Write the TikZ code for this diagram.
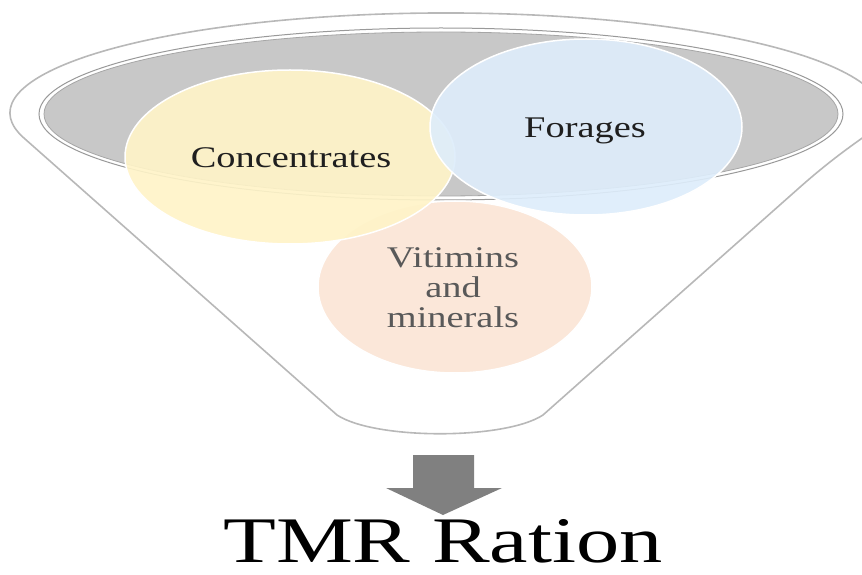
\documentclass[tikz,border=0pt]{standalone}
\usepackage{fontspec}
\setmainfont{Liberation Serif}
\begin{document}
\begin{tikzpicture}[x=1pt,y=1pt,
  funnelline/.style={draw=black!28,line width=1.6pt},
  blob/.style={draw=white,line width=1.5pt,fill opacity=0.91},
  lbl/.style={inner sep=0pt,anchor=base,xscale=1.28,font=\fontsize{30}{30}\selectfont,text=black!88},
]
\useasboundingbox (0,0) rectangle (862,574);
\clip (0,0) rectangle (862,574);
\definecolor{cyel}{RGB}{255,244,200}
\definecolor{cblu}{RGB}{222,237,251}
\definecolor{cpea}{RGB}{251,229,214}
\definecolor{cgry}{RGB}{200,200,200}
% funnel body
\path[funnelline,fill=white]
  (337,159) -- (23.9,436)
  arc[start angle=194.5,end angle=-8,x radius=436,y radius=100]
  .. controls (860,434) and (835,418) .. (799,386) -- (543,159)
  .. controls (505,134) and (375,134) .. (337,159) -- cycle;
% inner gray ellipse
\draw[draw=black!40,line width=1pt,fill=white] (441,460) ellipse[x radius=402,y radius=86];
\draw[draw=black!35,line width=0.8pt,fill=cgry] (441,460) ellipse[x radius=397,y radius=82];
% circles
\path[blob,fill=cpea] (455,287) ellipse[x radius=137,y radius=86];
\path[blob,fill=cyel] (290,417) ellipse[x radius=165,y radius=87];
\path[blob,fill=cblu] (586,447) ellipse[x radius=156,y radius=88];
% labels
\node[lbl] (conc) at (291,406) {Concentrates};
\node[lbl] (forg) at (585,436) {Forages};
\node[lbl,text=black!65] (vit1) at (453,307) {Vitimins};
\node[lbl,text=black!65] (vit2) at (453,277) {and};
\node[lbl,text=black!65] (vit3) at (453,247) {minerals};
% arrow
\fill[black!50] (413,119) -- (474,119) -- (474,86) -- (502,86) -- (443,59)
  -- (386,86) -- (413,86) -- cycle;
% result
\node[inner sep=0pt,anchor=base,text depth=0pt,xscale=1.33,font=\fontsize{65}{65}\selectfont,text=black] (tmr) at (443,12) {TMR Ration};
\end{tikzpicture}
\end{document}
